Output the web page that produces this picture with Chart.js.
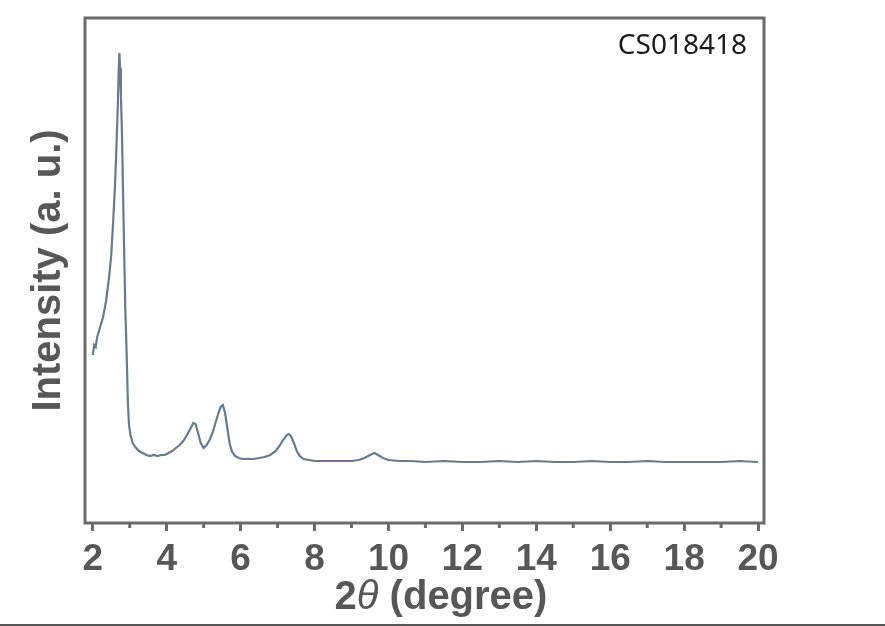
<!DOCTYPE html>
<html>
<head>
<meta charset="utf-8">
<script src="https://cdn.jsdelivr.net/npm/chart.js@4"></script>
<style>
  html, body { margin: 0; padding: 0; background: #fff; }
  canvas { display: block; }
</style>
</head>
<body>
<canvas id="xrdChart" width="885" height="626"></canvas>
<script>
// 2theta positions (degree)
const twoTheta = [
  2.00, 2.04, 2.08, 2.12, 2.20, 2.28, 2.36, 2.44, 2.50, 2.55,
  2.60, 2.64, 2.68, 2.70, 2.72, 2.74, 2.76, 2.79, 2.82, 2.85,
  2.88, 2.92, 2.95, 2.98, 3.02, 3.08, 3.15, 3.25, 3.35, 3.45,
  3.55, 3.65, 3.75, 3.85, 3.95, 4.05, 4.15, 4.25, 4.35, 4.45,
  4.55, 4.65, 4.72, 4.78, 4.85, 4.92, 5.00, 5.08, 5.16, 5.24,
  5.32, 5.40, 5.46, 5.52, 5.58, 5.64, 5.70, 5.76, 5.85, 5.95,
  6.05, 6.20, 6.35, 6.50, 6.65, 6.80, 6.95, 7.05, 7.15, 7.25,
  7.30, 7.36, 7.44, 7.52, 7.60, 7.70, 7.85, 8.00, 8.25, 8.50,
  8.75, 9.00, 9.20, 9.35, 9.50, 9.62, 9.72, 9.85, 10.00, 10.30,
  10.60, 11.00, 11.50, 12.00, 12.50, 13.00, 13.50, 14.00, 14.50, 15.00,
  15.50, 16.00, 16.50, 17.00, 17.50, 18.00, 18.50, 19.00, 19.50, 20.00
];
// intensity (a. u.), estimated
const intensity = [
  168, 178, 176, 186, 196, 206, 222, 245, 268, 300,
  336, 375, 420, 450, 470, 455, 430, 390, 330, 270,
  215, 165, 120, 98, 88, 80, 76, 72, 70, 68,
  67, 68, 67, 68, 68, 70, 72, 75, 78, 82,
  88, 95, 100, 99, 90, 80, 75, 78, 83, 90,
  100, 110, 116, 118, 110, 95, 80, 72, 67, 65,
  64, 64, 64, 65, 66, 68, 72, 77, 83, 88,
  89, 87, 80, 72, 67, 64, 63, 62, 62, 62,
  62, 62, 63, 65, 68, 70, 68, 65, 63, 62,
  62, 61, 62, 61, 61, 62, 61, 62, 61, 61,
  62, 61, 61, 62, 61, 61, 61, 61, 62, 61
];
const xMajorTicks = [2, 4, 6, 8, 10, 12, 14, 16, 18, 20];
const xMinorTicks = [3, 5, 7, 9, 11, 13, 15, 17, 19];
const sampleName = "CS018418";

const axisGrey = "#6a6a6a";
const textGrey = "#575757";
const sansBold = { family: "'Liberation Sans', Arial, sans-serif", size: 37, weight: "bold" };

const framePlugin = {
  id: "frame",
  afterDraw(chart) {
    const ctx = chart.ctx;
    const a = chart.chartArea;
    const x = chart.scales.x;
    ctx.save();
    ctx.strokeStyle = axisGrey;
    ctx.lineWidth = 3;
    ctx.strokeRect(a.left, a.top, a.right - a.left, a.bottom - a.top);
    // minor ticks at odd degrees
    ctx.beginPath();
    xMinorTicks.forEach(v => {
      const px = x.getPixelForValue(v);
      ctx.moveTo(px, a.bottom);
      ctx.lineTo(px, a.bottom + 5);
    });
    ctx.stroke();

    // x axis title: 2θ (degree), theta in italic
    const parts = [
      { t: "2", f: "bold 40px 'Liberation Sans', Arial" },
      { t: "\u03B8", f: "italic 40px 'Liberation Sans', Arial" },
      { t: " (degree)", f: "bold 40px 'Liberation Sans', Arial" }
    ];
    let total = 0;
    parts.forEach(p => { ctx.font = p.f; p.w = ctx.measureText(p.t).width; total += p.w; });
    let cx = 441 - total / 2;
    ctx.fillStyle = textGrey;
    ctx.textBaseline = "alphabetic";
    ctx.textAlign = "left";
    parts.forEach(p => { ctx.font = p.f; ctx.fillText(p.t, cx, 609); cx += p.w; });

    // sample label
    ctx.font = "28px 'Noto Sans', sans-serif";
    ctx.fillStyle = "#1c1c1c";
    ctx.textAlign = "right";
    ctx.fillText(sampleName, 747, 54);

    // screenshot edge line
    ctx.strokeStyle = "#555";
    ctx.lineWidth = 2;
    ctx.beginPath();
    ctx.moveTo(0, 625);
    ctx.lineTo(885, 625);
    ctx.stroke();
    ctx.restore();
  }
};

document.addEventListener("DOMContentLoaded", function () {
  const ctx = document.getElementById("xrdChart").getContext("2d");
  new Chart(ctx, {
    type: "line",
    data: {
      datasets: [{
        data: twoTheta.map((v, i) => ({ x: v, y: intensity[i] })),
        borderColor: "#6a7a8c",
        borderWidth: 2.2,
        pointRadius: 0,
        tension: 0,
        fill: false
      }]
    },
    options: {
      responsive: false,
      animation: false,
      layout: { padding: { top: 18, right: 121, left: 0, bottom: 0 } },
      plugins: { legend: { display: false }, tooltip: { enabled: false } },
      scales: {
        x: {
          type: "linear",
          min: 1.79,
          max: 20.16,
          afterBuildTicks: s => { s.ticks = xMajorTicks.map(v => ({ value: v })); },
          afterFit: s => { s.height = 103; },
          border: { display: false },
          grid: {
            display: true,
            drawOnChartArea: false,
            drawTicks: true,
            tickLength: 8,
            tickWidth: 3,
            tickColor: axisGrey
          },
          ticks: {
            font: sansBold,
            color: textGrey,
            padding: 7,
            maxRotation: 0,
            autoSkip: false
          }
        },
        y: {
          min: 0,
          max: 505,
          afterFit: s => { s.width = 85; },
          border: { display: false },
          grid: { display: false },
          ticks: { display: false },
          title: {
            display: true,
            text: "Intensity (a. u.)",
            font: { family: "'Liberation Sans', Arial, sans-serif", size: 40, weight: "bold" },
            color: textGrey,
            padding: { top: 25, bottom: 0 }
          }
        }
      }
    },
    plugins: [framePlugin]
  });
});
</script>
</body>
</html>
